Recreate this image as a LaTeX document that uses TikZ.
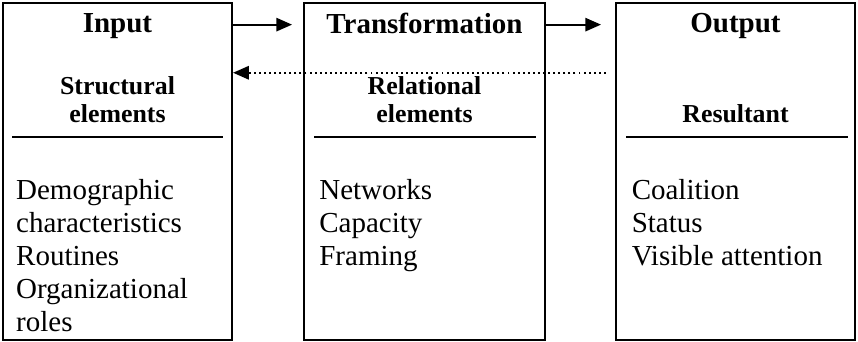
\documentclass[tikz,border=0pt]{standalone}
\usepackage{fontspec}
\setmainfont{Liberation Serif}
\usepackage{tikz}
\usetikzlibrary{arrows.meta}

\tikzset{
    stage/.style={draw, line width=0.9pt, minimum height=4.90cm, inner sep=0pt},
    heading/.style={font=\fontsize{12}{14}\selectfont\bfseries, inner sep=0pt},
    subhead/.style={font=\fontsize{10.7}{11.6}\selectfont\bfseries, align=center, inner sep=0pt, anchor=south},
    items/.style={font=\fontsize{12}{13.7}\selectfont, align=left, inner sep=0pt, anchor=north west},
    flow/.style={-{Triangle[length=6.5pt,width=5.5pt]}, line width=0.8pt},
    back/.style={-{Triangle[length=6.5pt,width=5.5pt]}, line width=0.8pt, dash pattern=on 0.8pt off 1.3pt},
    rule/.style={line width=0.9pt}
}

\begin{document}
\begin{tikzpicture}
    \useasboundingbox (0,0) rectangle (12.48,4.974);

    % the three boxes
    \node[stage, minimum width=3.33cm] (inp) at (1.709,2.48) {};
    \node[stage, minimum width=3.50cm] (tr) at (6.174,2.48) {};
    \node[stage, minimum width=3.48cm] (out) at (10.698,2.48) {};

    % headings
    \node[heading, below=0.16cm] (inptitle) at (inp.north) {Input};
    \node[heading, below=0.16cm] (trtitle) at (tr.north) {Transformation};
    \node[heading, below=0.16cm] (outtitle) at (out.north) {Output};

    % rules under the sub headings
    \draw[rule] ([xshift=0.15cm,yshift=-1.96cm]inp.north west) -- ([xshift=-0.14cm,yshift=-1.96cm]inp.north east);
    \draw[rule] ([xshift=0.16cm,yshift=-1.96cm]tr.north west) -- ([xshift=-0.15cm,yshift=-1.96cm]tr.north east);
    \draw[rule] ([xshift=0.17cm,yshift=-1.96cm]out.north west) -- ([xshift=-0.12cm,yshift=-1.96cm]out.north east);

    \node[subhead] (inpsub) at ([yshift=-1.77cm]inp.north) {Structural\\elements};
    \node[subhead] (trsub) at ([yshift=-1.77cm]tr.north) {Relational\\elements};
    \node[subhead] (outsub) at ([yshift=-1.77cm]out.north) {Resultant};

    % lists
    \node[items] (inplist) at ([xshift=0.2cm,yshift=-2.57cm]inp.north west) {Demographic\\characteristics\\Routines\\Organizational\\roles};
    \node[items] (trlist) at ([xshift=0.23cm,yshift=-2.57cm]tr.north west) {Networks\\Capacity\\Framing};
    \node[items] (outlist) at ([xshift=0.24cm,yshift=-2.57cm]out.north west) {Coalition\\Status\\Visible attention};

    % connectors
    \draw[flow] ([yshift=-0.33cm]inp.north east) -- ([xshift=-0.16cm,yshift=-0.33cm]tr.north west);
    \draw[flow] ([yshift=-0.33cm]tr.north east) -- ([xshift=-0.2cm,yshift=-0.33cm]out.north west);
    \draw[back] ([xshift=-0.13cm,yshift=-1.03cm]out.north west) -- ([yshift=-1.03cm]inp.north east);
\end{tikzpicture}
\end{document}
